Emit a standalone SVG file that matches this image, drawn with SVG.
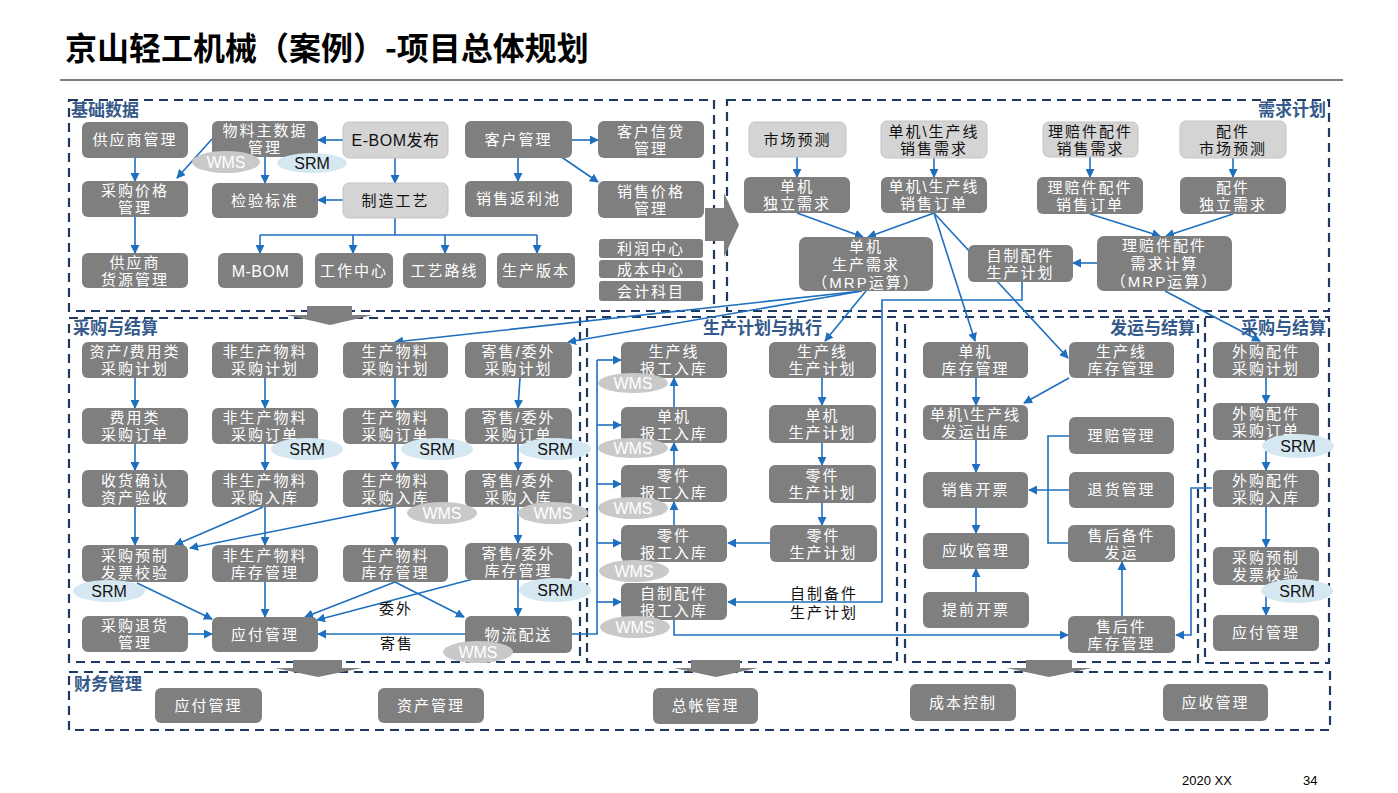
<svg xmlns="http://www.w3.org/2000/svg" width="1398" height="793" viewBox="0 0 1398 793">
<defs>
<marker id="ah" viewBox="0 0 10 10" refX="9" refY="5" markerWidth="9" markerHeight="9" markerUnits="userSpaceOnUse" orient="auto"><path d="M0,0 L10,5 L0,10 z" fill="#1f6fbf"/></marker>
<style>
.sec{fill:none;stroke:#1f3a60;stroke-width:2.2;stroke-dasharray:9 6}
.lab{font-family:"Noto Sans CJK SC",sans-serif;font-size:17px;font-weight:bold;fill:#34598a}
.n rect{fill:#7f7f7f}
.n text{fill:#ffffff}
.lt rect{fill:#d4d4d4;stroke:#c4c4c4;stroke-width:1}
.lt text{fill:#111111}
text{font-family:"Liberation Sans","Noto Sans CJK SC",sans-serif;font-size:15px;text-anchor:middle;letter-spacing:2px}
.lat{letter-spacing:0.5px;font-size:16px}
.c path{fill:none;stroke:#1f6fbf;stroke-width:1.6}
.c .a{marker-end:url(#ah)}
.wms ellipse{fill:#c9c9c9}
.wms text{fill:#ffffff;letter-spacing:0;font-size:16px}
.srm ellipse{fill:#d5e7f0}
.srm text{fill:#111111;letter-spacing:0;font-size:16px}
.blk{fill:#7f7f7f}
.plain{fill:#111111}
</style>
</defs>
<rect width="1398" height="793" fill="#ffffff"/>
<text x="65" y="60" style="font-family:'Noto Sans CJK SC',sans-serif;font-size:32px;font-weight:bold;text-anchor:start;letter-spacing:0;fill:#000">京山轻工机械（案例）-项目总体规划</text>
<line x1="60" y1="80" x2="1343" y2="80" stroke="#000" stroke-width="1"/>

<g id="sections">
<rect class="sec" x="69" y="100" width="645" height="211"/>
<rect class="sec" x="727" y="100" width="602" height="211"/>
<rect class="sec" x="69" y="318" width="511" height="344"/>
<rect class="sec" x="587" y="317" width="310" height="345"/>
<rect class="sec" x="905" y="317" width="293" height="345"/>
<rect class="sec" x="1205" y="317" width="124" height="346"/>
<rect class="sec" x="69" y="672" width="1261" height="58"/>
<text class="lab" x="71" y="116" style="text-anchor:start;letter-spacing:0">基础数据</text>
<text class="lab" x="1326" y="116" style="text-anchor:end;letter-spacing:0">需求计划</text>
<text class="lab" x="73" y="334" style="text-anchor:start;letter-spacing:0">采购与结算</text>
<text class="lab" x="703" y="334" style="text-anchor:start;letter-spacing:0">生产计划与执行</text>
<text class="lab" x="1195" y="334" style="text-anchor:end;letter-spacing:0">发运与结算</text>
<text class="lab" x="1326" y="334" style="text-anchor:end;letter-spacing:0">采购与结算</text>
<text class="lab" x="74" y="690" style="text-anchor:start;letter-spacing:0">财务管理</text>
</g>

<g id="block-arrows">
<polygon class="blk" points="705,208 724,208 724,193 739,225 724,257 724,241 705,241"/>
<polygon class="blk" points="307,306 352,306 352,315 373,315 330,325 287,315 307,315"/>
<polygon class="blk" points="293,660 342,660 342,668 362,668 318,677 275,668 293,668"/>
<polygon class="blk" points="691,660 740,660 740,668 758,668 716,677 674,668 691,668"/>
<polygon class="blk" points="1026,660 1072,660 1072,668 1092,668 1049,677 1006,668 1026,668"/>
</g>

<g id="connectors" class="c">
<path class="a" d="M135,158 V181"/>
<path class="a" d="M212,139 L177,178"/>
<path class="a" d="M135,217 V253"/>
<path class="a" d="M265,157 V183"/>
<path class="a" d="M343,140 H318"/>
<path class="a" d="M395,158 V183"/>
<path class="a" d="M343,200 H318"/>
<path d="M395,218 V235 M260,235 H537"/>
<path class="a" d="M260,235 V253"/>
<path class="a" d="M353,235 V253"/>
<path class="a" d="M445,235 V253"/>
<path class="a" d="M537,235 V253"/>
<path class="a" d="M572,140 H598"/>
<path class="a" d="M518,158 V181"/>
<path class="a" d="M560,156 L598,182"/>
<path class="a" d="M797,157 V177"/>
<path class="a" d="M934,158 V177"/>
<path class="a" d="M1090,157 V177"/>
<path class="a" d="M1233,158 V177"/>
<path class="a" d="M797,213 L863,237"/>
<path class="a" d="M934,213 L868,237"/>
<path class="a" d="M1090,214 L1160,236"/>
<path class="a" d="M1233,214 L1166,236"/>
<path class="a" d="M1097,263 H1073"/>
<path class="a" d="M934,213 L975,341"/>
<path class="a" d="M934,213 L1068,358"/>
<path class="a" d="M866,291 L825,341"/>
<path class="a" d="M862,291 L395,342"/>
<path class="a" d="M862,291 L568,342"/>
<path class="a" d="M1165,291 L1260,341"/>
<path class="a" d="M1022,282 V300 H882 V602 H728"/>
<path class="a" d="M135,378 V408"/>
<path class="a" d="M135,444 V470"/>
<path class="a" d="M135,507 V545"/>
<path class="a" d="M265,378 V408"/>
<path class="a" d="M265,444 V470"/>
<path class="a" d="M265,507 V545"/>
<path class="a" d="M265,582 V617"/>
<path class="a" d="M395,378 V408"/>
<path class="a" d="M395,444 V470"/>
<path class="a" d="M395,507 V545"/>
<path class="a" d="M520,378 L518,408"/>
<path class="a" d="M518,444 V470"/>
<path class="a" d="M518,507 V543"/>
<path class="a" d="M518,580 V616"/>
<path class="a" d="M263,507 L175,545"/>
<path class="a" d="M395,507 L190,548"/>
<path class="a" d="M137,583 L212,619"/>
<path class="a" d="M188,634 H212"/>
<path class="a" d="M395,582 L305,617"/>
<path class="a" d="M477,578 L317,620"/>
<path class="a" d="M395,582 L464,617"/>
<path class="a" d="M465,634 H318"/>
<path d="M572,634 H597 V360"/>
<path class="a" d="M597,360 H621"/>
<path class="a" d="M597,425 H621"/>
<path class="a" d="M597,484 H621"/>
<path class="a" d="M597,543 H621"/>
<path class="a" d="M597,602 H621"/>
<path class="a" d="M674,525 V502"/>
<path class="a" d="M674,465 V443"/>
<path class="a" d="M674,407 V378"/>
<path class="a" d="M822,378 V405"/>
<path class="a" d="M822,443 V465"/>
<path class="a" d="M822,503 V525"/>
<path class="a" d="M770,543 H728"/>
<path class="a" d="M674,620 V635 H1068"/>
<path class="a" d="M976,378 V405"/>
<path class="a" d="M1069,378 L1024,403"/>
<path class="a" d="M976,440 V472"/>
<path class="a" d="M976,508 V533"/>
<path class="a" d="M976,592 V569"/>
<path class="a" d="M1069,490 H1029"/>
<path d="M1069,436 H1048 V543 H1068"/>
<path class="a" d="M1122,616 V562"/>
<path class="a" d="M1212,488 H1191 V635 H1176"/>
<path class="a" d="M1266,378 V403"/>
<path class="a" d="M1266,440 V470"/>
<path class="a" d="M1266,507 V547"/>
<path class="a" d="M1266,585 V615"/>
</g>

<g id="n1" class="n"><rect x="82" y="122" width="106" height="36" rx="6"/><text x="135" y="145">供应商管理</text></g>
<g id="n2" class="n"><rect x="212" y="121" width="106" height="36" rx="6"/><text x="265" y="136">物料主数据</text><text x="265" y="153">管理</text></g>
<g id="n3" class="lt"><rect x="343" y="122" width="105" height="36" rx="6"/><text class="lat" x="395.5" y="146">E-BOM发布</text></g>
<g id="n4" class="n"><rect x="82" y="181" width="106" height="36" rx="6"/><text x="135" y="196">采购价格</text><text x="135" y="213">管理</text></g>
<g id="n5" class="n"><rect x="212" y="183" width="106" height="35" rx="6"/><text x="265" y="205.5">检验标准</text></g>
<g id="n6" class="lt"><rect x="343" y="183" width="105" height="35" rx="6"/><text x="395.5" y="205.5">制造工艺</text></g>
<g id="n7" class="n"><rect x="82" y="253" width="106" height="35" rx="6"/><text x="135" y="267.5">供应商</text><text x="135" y="284.5">货源管理</text></g>
<g id="n8" class="n"><rect x="218" y="253" width="85" height="35" rx="6"/><text class="lat" x="260.5" y="276.5">M-BOM</text></g>
<g id="n9" class="n"><rect x="315" y="253" width="78" height="35" rx="6"/><text x="354" y="276">工作中心</text></g>
<g id="n10" class="n"><rect x="403" y="253" width="83" height="35" rx="6"/><text x="444.5" y="276">工艺路线</text></g>
<g id="n11" class="n"><rect x="497" y="253" width="78" height="35" rx="6"/><text x="536" y="276">生产版本</text></g>
<g id="n12" class="n"><rect x="465" y="121" width="107" height="37" rx="6"/><text x="518.5" y="145">客户管理</text></g>
<g id="n13" class="n"><rect x="598" y="121" width="106" height="37" rx="6"/><text x="651" y="136.5">客户信贷</text><text x="651" y="153.5">管理</text></g>
<g id="n14" class="n"><rect x="465" y="181" width="107" height="36" rx="6"/><text x="518.5" y="204">销售返利池</text></g>
<g id="n15" class="n"><rect x="598" y="181" width="106" height="37" rx="6"/><text x="651" y="196.5">销售价格</text><text x="651" y="213.5">管理</text></g>
<g id="n16" class="n"><rect x="599" y="239" width="104" height="19" rx="3"/><text x="651" y="254">利润中心</text></g>
<g id="n17" class="n"><rect x="599" y="260" width="104" height="18" rx="3"/><text x="651" y="274.5">成本中心</text></g>
<g id="n18" class="n"><rect x="599" y="281" width="104" height="20" rx="3"/><text x="651" y="296.5">会计科目</text></g>

<g id="d1" class="lt"><rect x="749" y="122" width="97" height="35" rx="6"/><text x="797.5" y="145">市场预测</text></g>
<g id="d2" class="lt"><rect x="881" y="121" width="106" height="37" rx="6"/><text x="934" y="136.5">单机\生产线</text><text x="934" y="153.5">销售需求</text></g>
<g id="d3" class="lt"><rect x="1043" y="122" width="95" height="35" rx="6"/><text x="1090.5" y="136.5">理赔件配件</text><text x="1090.5" y="153.5">销售需求</text></g>
<g id="d4" class="lt"><rect x="1180" y="121" width="106" height="37" rx="6"/><text x="1233" y="136.5">配件</text><text x="1233" y="153.5">市场预测</text></g>
<g id="d5" class="n"><rect x="744" y="177" width="106" height="36" rx="6"/><text x="797" y="192">单机</text><text x="797" y="209">独立需求</text></g>
<g id="d6" class="n"><rect x="881" y="177" width="106" height="36" rx="6"/><text x="934" y="192">单机\生产线</text><text x="934" y="209">销售订单</text></g>
<g id="d7" class="n"><rect x="1037" y="177" width="106" height="37" rx="6"/><text x="1090" y="192.5">理赔件配件</text><text x="1090" y="209.5">销售订单</text></g>
<g id="d8" class="n"><rect x="1180" y="177" width="106" height="37" rx="6"/><text x="1233" y="192.5">配件</text><text x="1233" y="209.5">独立需求</text></g>
<g id="d9" class="n"><rect x="799" y="237" width="134" height="54" rx="7"/><text x="866" y="251.5">单机</text><text x="866" y="269.5">生产需求</text><text x="866" y="287.5">（MRP运算）</text></g>
<g id="d10" class="n"><rect x="968" y="245" width="105" height="37" rx="6"/><text x="1020.5" y="260.5">自制配件</text><text x="1020.5" y="277.5">生产计划</text></g>
<g id="d11" class="n"><rect x="1097" y="236" width="135" height="55" rx="7"/><text x="1164.5" y="251">理赔件配件</text><text x="1164.5" y="269">需求计算</text><text x="1164.5" y="287">（MRP运算）</text></g>

<g id="b1" class="n"><rect x="82" y="342" width="106" height="36" rx="6"/><text x="135" y="357">资产/费用类</text><text x="135" y="374">采购计划</text></g>
<g id="b2" class="n"><rect x="212" y="342" width="106" height="36" rx="6"/><text x="265" y="357">非生产物料</text><text x="265" y="374">采购计划</text></g>
<g id="b3" class="n"><rect x="343" y="342" width="105" height="36" rx="6"/><text x="395.5" y="357">生产物料</text><text x="395.5" y="374">采购计划</text></g>
<g id="b4" class="n"><rect x="465" y="342" width="107" height="36" rx="6"/><text x="518.5" y="357">寄售/委外</text><text x="518.5" y="374">采购计划</text></g>
<g id="b5" class="n"><rect x="82" y="408" width="106" height="36" rx="6"/><text x="135" y="423">费用类</text><text x="135" y="440">采购订单</text></g>
<g id="b6" class="n"><rect x="212" y="408" width="106" height="36" rx="6"/><text x="265" y="423">非生产物料</text><text x="265" y="440">采购订单</text></g>
<g id="b7" class="n"><rect x="343" y="408" width="105" height="36" rx="6"/><text x="395.5" y="423">生产物料</text><text x="395.5" y="440">采购订单</text></g>
<g id="b8" class="n"><rect x="465" y="408" width="107" height="36" rx="6"/><text x="518.5" y="423">寄售/委外</text><text x="518.5" y="440">采购订单</text></g>
<g id="b9" class="n"><rect x="82" y="470" width="106" height="37" rx="6"/><text x="135" y="485.5">收货确认</text><text x="135" y="502.5">资产验收</text></g>
<g id="b10" class="n"><rect x="212" y="470" width="106" height="37" rx="6"/><text x="265" y="485.5">非生产物料</text><text x="265" y="502.5">采购入库</text></g>
<g id="b11" class="n"><rect x="343" y="470" width="105" height="37" rx="6"/><text x="395.5" y="485.5">生产物料</text><text x="395.5" y="502.5">采购入库</text></g>
<g id="b12" class="n"><rect x="465" y="470" width="107" height="37" rx="6"/><text x="518.5" y="485.5">寄售/委外</text><text x="518.5" y="502.5">采购入库</text></g>
<g id="b13" class="n"><rect x="82" y="545" width="106" height="37" rx="6"/><text x="135" y="560.5">采购预制</text><text x="135" y="577.5">发票校验</text></g>
<g id="b14" class="n"><rect x="212" y="545" width="106" height="37" rx="6"/><text x="265" y="560.5">非生产物料</text><text x="265" y="577.5">库存管理</text></g>
<g id="b15" class="n"><rect x="343" y="545" width="105" height="37" rx="6"/><text x="395.5" y="560.5">生产物料</text><text x="395.5" y="577.5">库存管理</text></g>
<g id="b16" class="n"><rect x="465" y="543" width="107" height="37" rx="6"/><text x="518.5" y="558.5">寄售/委外</text><text x="518.5" y="575.5">库存管理</text></g>
<g id="b17" class="n"><rect x="82" y="616" width="106" height="36" rx="6"/><text x="135" y="631">采购退货</text><text x="135" y="648">管理</text></g>
<g id="b18" class="n"><rect x="212" y="617" width="106" height="35" rx="6"/><text x="265" y="639.5">应付管理</text></g>
<g id="b19" class="n"><rect x="465" y="616" width="107" height="37" rx="6"/><text x="518.5" y="639.5">物流配送</text></g>

<g id="p1" class="n"><rect x="621" y="342" width="106" height="36" rx="6"/><text x="674" y="357">生产线</text><text x="674" y="374">报工入库</text></g>
<g id="p2" class="n"><rect x="621" y="407" width="106" height="36" rx="6"/><text x="674" y="422">单机</text><text x="674" y="439">报工入库</text></g>
<g id="p3" class="n"><rect x="621" y="465" width="106" height="37" rx="6"/><text x="674" y="480.5">零件</text><text x="674" y="497.5">报工入库</text></g>
<g id="p4" class="n"><rect x="621" y="525" width="106" height="37" rx="6"/><text x="674" y="540.5">零件</text><text x="674" y="557.5">报工入库</text></g>
<g id="p5" class="n"><rect x="621" y="583" width="106" height="37" rx="6"/><text x="674" y="598.5">自制配件</text><text x="674" y="615.5">报工入库</text></g>
<g id="p6" class="n"><rect x="769" y="342" width="107" height="36" rx="6"/><text x="822.5" y="357">生产线</text><text x="822.5" y="374">生产计划</text></g>
<g id="p7" class="n"><rect x="769" y="405" width="107" height="38" rx="6"/><text x="822.5" y="421">单机</text><text x="822.5" y="438">生产计划</text></g>
<g id="p8" class="n"><rect x="769" y="465" width="107" height="38" rx="6"/><text x="822.5" y="481">零件</text><text x="822.5" y="498">生产计划</text></g>
<g id="p9" class="n"><rect x="770" y="525" width="107" height="37" rx="6"/><text x="823.5" y="540.5">零件</text><text x="823.5" y="557.5">生产计划</text></g>

<g id="s1" class="n"><rect x="923" y="342" width="105" height="36" rx="6"/><text x="975.5" y="357">单机</text><text x="975.5" y="374">库存管理</text></g>
<g id="s2" class="n"><rect x="923" y="405" width="105" height="35" rx="6"/><text x="975.5" y="419.5">单机\生产线</text><text x="975.5" y="436.5">发运出库</text></g>
<g id="s3" class="n"><rect x="923" y="472" width="105" height="36" rx="6"/><text x="975.5" y="495">销售开票</text></g>
<g id="s4" class="n"><rect x="923" y="533" width="106" height="36" rx="6"/><text x="976" y="556">应收管理</text></g>
<g id="s5" class="n"><rect x="923" y="592" width="106" height="36" rx="6"/><text x="976" y="615">提前开票</text></g>
<g id="s6" class="n"><rect x="1069" y="342" width="105" height="36" rx="6"/><text x="1121.5" y="357">生产线</text><text x="1121.5" y="374">库存管理</text></g>
<g id="s7" class="n"><rect x="1069" y="417" width="105" height="37" rx="6"/><text x="1121.5" y="440.5">理赔管理</text></g>
<g id="s8" class="n"><rect x="1069" y="472" width="105" height="36" rx="6"/><text x="1121.5" y="495">退货管理</text></g>
<g id="s9" class="n"><rect x="1068" y="525" width="107" height="37" rx="6"/><text x="1121.5" y="540.5">售后备件</text><text x="1121.5" y="557.5">发运</text></g>
<g id="s10" class="n"><rect x="1068" y="616" width="107" height="37" rx="6"/><text x="1121.5" y="631.5">售后件</text><text x="1121.5" y="648.5">库存管理</text></g>

<g id="r1" class="n"><rect x="1213" y="342" width="106" height="36" rx="6"/><text x="1266" y="357">外购配件</text><text x="1266" y="374">采购计划</text></g>
<g id="r2" class="n"><rect x="1213" y="403" width="106" height="37" rx="6"/><text x="1266" y="418.5">外购配件</text><text x="1266" y="435.5">采购订单</text></g>
<g id="r3" class="n"><rect x="1213" y="470" width="106" height="37" rx="6"/><text x="1266" y="485.5">外购配件</text><text x="1266" y="502.5">采购入库</text></g>
<g id="r4" class="n"><rect x="1213" y="547" width="106" height="38" rx="6"/><text x="1266" y="563">采购预制</text><text x="1266" y="580">发票校验</text></g>
<g id="r5" class="n"><rect x="1213" y="615" width="106" height="36" rx="6"/><text x="1266" y="638">应付管理</text></g>

<g id="f1" class="n"><rect x="155" y="688" width="107" height="35" rx="6"/><text x="208.5" y="710.5">应付管理</text></g>
<g id="f2" class="n"><rect x="378" y="688" width="106" height="35" rx="6"/><text x="431" y="710.5">资产管理</text></g>
<g id="f3" class="n"><rect x="653" y="688" width="105" height="36" rx="6"/><text x="705.5" y="711">总帐管理</text></g>
<g id="f4" class="n"><rect x="910" y="684" width="106" height="37" rx="6"/><text x="963" y="707.5">成本控制</text></g>
<g id="f5" class="n"><rect x="1163" y="684" width="105" height="37" rx="6"/><text x="1215.5" y="707.5">应收管理</text></g>

<g id="tags">
<g class="wms"><ellipse cx="226" cy="162" rx="34" ry="11"/><text x="226" y="168">WMS</text></g>
<g class="wms"><ellipse cx="442" cy="513" rx="35" ry="11"/><text x="442" y="519">WMS</text></g>
<g class="wms"><ellipse cx="553" cy="513" rx="35" ry="11"/><text x="553" y="519">WMS</text></g>
<g class="wms"><ellipse cx="478" cy="652" rx="35" ry="11"/><text x="478" y="658">WMS</text></g>
<g class="wms"><ellipse cx="633" cy="383" rx="35" ry="10"/><text x="633" y="389">WMS</text></g>
<g class="wms"><ellipse cx="633" cy="448" rx="35" ry="10"/><text x="633" y="454">WMS</text></g>
<g class="wms"><ellipse cx="633" cy="508" rx="35" ry="11"/><text x="633" y="514">WMS</text></g>
<g class="wms"><ellipse cx="634" cy="571" rx="35" ry="11"/><text x="634" y="577">WMS</text></g>
<g class="wms"><ellipse cx="635" cy="627" rx="35" ry="11"/><text x="635" y="633">WMS</text></g>
<g class="srm"><ellipse cx="312" cy="163" rx="35" ry="10"/><text x="312" y="169">SRM</text></g>
<g class="srm"><ellipse cx="307" cy="449" rx="36" ry="11"/><text x="307" y="455">SRM</text></g>
<g class="srm"><ellipse cx="437" cy="449" rx="36" ry="11"/><text x="437" y="455">SRM</text></g>
<g class="srm"><ellipse cx="555" cy="449" rx="36" ry="11"/><text x="555" y="455">SRM</text></g>
<g class="srm"><ellipse cx="109" cy="591" rx="36" ry="11"/><text x="109" y="597">SRM</text></g>
<g class="srm"><ellipse cx="555" cy="590" rx="36" ry="12"/><text x="555" y="596">SRM</text></g>
<g class="srm"><ellipse cx="1298" cy="446" rx="36" ry="12"/><text x="1298" y="452">SRM</text></g>
<g class="srm"><ellipse cx="1297" cy="591" rx="36" ry="12"/><text x="1297" y="597">SRM</text></g>
</g>

<g id="labels">
<text class="plain" x="396" y="614">委外</text>
<text class="plain" x="397" y="649">寄售</text>
<text class="plain" x="824" y="599">自制备件</text>
<text class="plain" x="824" y="618">生产计划</text>
</g>

<text x="1182" y="785" style="font-size:13px;text-anchor:start;letter-spacing:0;fill:#000">2020 XX</text>
<text x="1303" y="785" style="font-size:13px;text-anchor:start;letter-spacing:0;fill:#000">34</text>
</svg>
